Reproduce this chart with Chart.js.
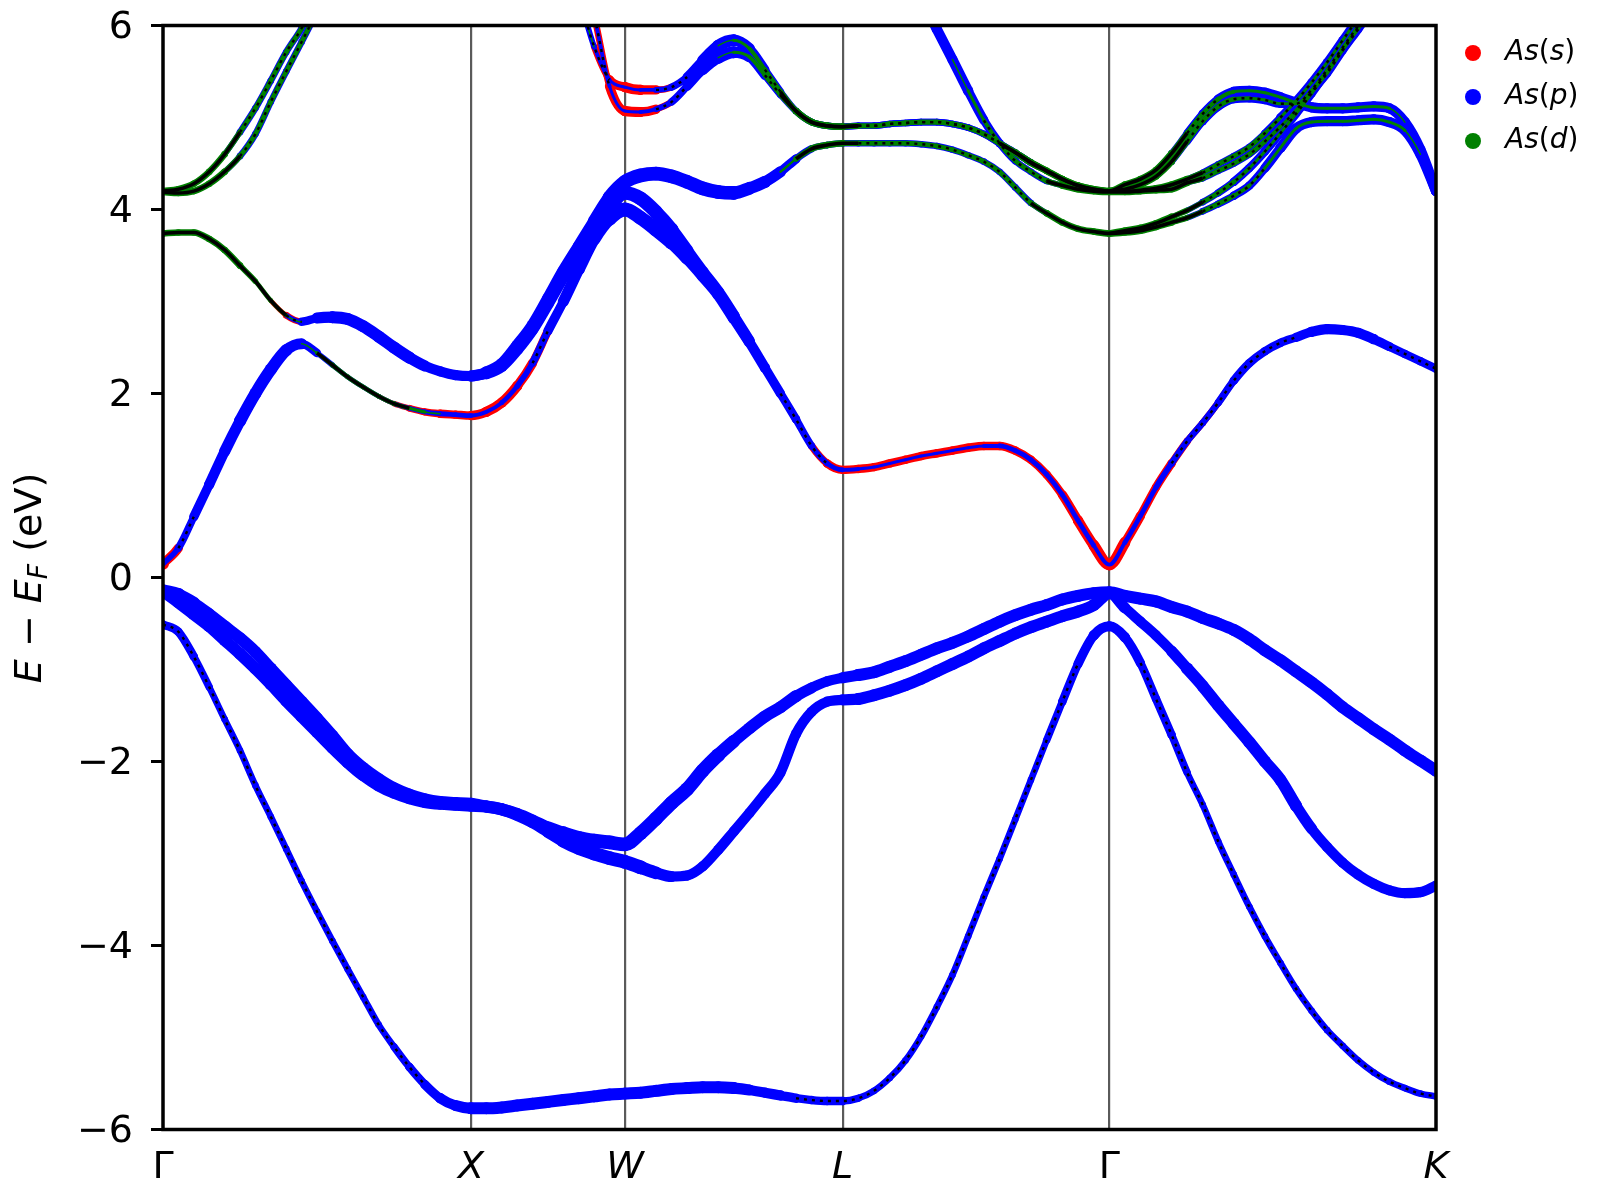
<!DOCTYPE html>
<html><head><meta charset="utf-8">
<script src="https://cdn.jsdelivr.net/npm/chart.js@4.4.1/dist/chart.umd.min.js"></script>
<style>html,body{margin:0;padding:0;background:#fff}#wrap{width:1600px;height:1200px}</style>
</head><body><div id="wrap"><canvas id="c" width="1600" height="1200"></canvas></div>
<script>
// ---------- k-path ----------
const kLabels = ['Γ','X','W','L','Γ','K'];
const kTicks = [0, 1.0, 1.5, 2.2071, 3.0731, 4.1338];
const kSegPoints = [20, 10, 14, 17, 21];
const yTicks = [-6,-4,-2,0,2,4,6];
const orbitalLabels = ['As(s)','As(p)','As(d)'];
const orbitalColors = ['#ff0000','#0000ff','#008000'];
const N = null;
function nulls(n){ return new Array(n).fill(null); }

// ---------- band energies (eV), segments Γ–X | X–W | W–L | L–Γ | Γ–K ----------
const V1 = [
 -0.51,-0.59,-0.86,-1.19,-1.54,-1.88,-2.26,-2.60,-2.95,-3.30,-3.63,-3.95,-4.26,-4.56,-4.86,-5.10,-5.32,-5.51,-5.66,-5.74,-5.77,
 -5.77,-5.76,-5.74,-5.72,-5.70,-5.68,-5.66,-5.64,-5.62,-5.61,
 -5.60,-5.58,-5.56,-5.55,-5.54,-5.54,-5.55,-5.57,-5.60,-5.63,-5.66,-5.68,-5.69,-5.69,
 -5.66,-5.58,-5.44,-5.25,-4.99,-4.67,-4.32,-3.90,-3.47,-3.06,-2.63,-2.20,-1.77,-1.35,-0.94,-0.63,-0.53,
 -0.65,-0.93,-1.32,-1.71,-2.12,-2.47,-2.87,-3.23,-3.58,-3.90,-4.19,-4.47,-4.71,-4.92,-5.09,-5.25,-5.38,-5.48,-5.55,-5.61,-5.64];
const V2 = [
 -0.15,-0.27,-0.40,-0.53,-0.68,-0.83,-0.99,-1.16,-1.34,-1.51,-1.68,-1.85,-2.01,-2.15,-2.26,-2.34,-2.40,-2.44,-2.46,-2.47,-2.48,
 -2.49,-2.52,-2.58,-2.66,-2.76,-2.86,-2.94,-3.00,-3.05,-3.09,
 -3.15,-3.21,-3.25,-3.24,-3.14,-2.96,-2.76,-2.56,-2.35,-2.12,-1.70,-1.46,-1.35,-1.33,
 -1.32,-1.28,-1.23,-1.17,-1.10,-1.02,-0.94,-0.86,-0.77,-0.69,-0.61,-0.54,-0.48,-0.42,-0.37,-0.30,-0.17,
 -0.33,-0.48,-0.63,-0.80,-0.99,-1.18,-1.39,-1.59,-1.79,-2.00,-2.20,-2.48,-2.73,-2.93,-3.10,-3.23,-3.33,-3.40,-3.43,-3.42,-3.35];
const V3 = [
 -0.15,-0.19,-0.28,-0.40,-0.53,-0.66,-0.81,-0.99,-1.17,-1.35,-1.53,-1.72,-1.92,-2.07,-2.19,-2.29,-2.36,-2.41,-2.44,-2.45,-2.46,
 -2.49,-2.52,-2.57,-2.64,-2.72,-2.78,-2.83,-2.86,-2.88,-2.90,
 -2.78,-2.62,-2.45,-2.30,-2.10,-1.93,-1.78,-1.64,-1.51,-1.41,-1.29,-1.20,-1.13,-1.09,
 -1.06,-1.03,-0.97,-0.91,-0.84,-0.77,-0.71,-0.64,-0.56,-0.48,-0.41,-0.35,-0.30,-0.24,-0.20,-0.17,-0.16,
 -0.20,-0.23,-0.26,-0.32,-0.37,-0.44,-0.50,-0.57,-0.67,-0.79,-0.90,-1.02,-1.14,-1.27,-1.41,-1.53,-1.65,-1.76,-1.88,-1.99,-2.10];
const C1 = [
 0.15,0.32,0.66,1.01,1.37,1.70,2.00,2.26,2.47,2.54,2.44,2.31,2.18,2.07,1.97,1.89,1.84,1.80,1.78,1.77,1.76,
 1.80,1.90,2.08,2.33,2.68,3.00,3.35,3.68,3.90,4.00,
 3.91,3.78,3.64,3.47,3.28,3.08,2.82,2.56,2.28,2.00,1.72,1.43,1.24,1.17,
 1.18,1.20,1.24,1.28,1.32,1.35,1.38,1.41,1.43,1.43,1.38,1.28,1.12,0.90,0.62,0.35,0.14,
 0.38,0.67,0.98,1.24,1.48,1.68,1.90,2.14,2.33,2.46,2.55,2.61,2.67,2.70,2.69,2.66,2.59,2.51,2.43,2.35,2.27];
const C2 = [
 3.74,3.75,3.75,3.68,3.56,3.39,3.22,3.01,2.85,2.78,2.82,2.83,2.81,2.73,2.62,2.50,2.39,2.30,2.24,2.20,2.19,
 2.23,2.32,2.52,2.74,3.03,3.33,3.60,3.87,4.13,4.30,
 4.37,4.39,4.36,4.30,4.23,4.19,4.18,4.23,4.30,4.41,4.55,4.66,4.70,4.72,
 4.72,4.72,4.72,4.72,4.71,4.69,4.65,4.59,4.52,4.41,4.24,4.07,3.96,3.86,3.79,3.76,3.74,
 3.75,3.77,3.81,3.86,3.91,3.98,4.06,4.15,4.26,4.45,4.67,4.88,4.95,4.96,4.96,4.97,4.98,4.95,4.86,4.60,4.20];
const C2w = [
 ...nulls(20),2.19,
 2.22,2.30,2.48,2.70,2.98,3.27,3.54,3.80,4.03,4.18,
 4.12,3.97,3.78,3.55,3.32,3.10,2.84,2.57,N,N,N,N,N,N,
 ...nulls(17), ...nulls(21)];
const C2b = [
 ...nulls(61),3.74,
 3.77,3.80,3.85,3.92,3.99,4.08,4.18,4.30,4.45,4.63,4.83,5.04,5.26,5.50,5.74,5.98,6.22,6.46,6.70,6.90,7.10];
const T1 = [
 4.20,4.22,4.28,4.41,4.60,4.84,5.10,5.40,5.71,5.97,6.30,6.60,6.90,7.10,7.30,7.40,7.50,7.50,7.50,7.50,7.50,
 7.40,7.30,7.20,7.00,6.80,6.60,6.30,5.77,5.41,5.33,
 5.30,5.30,5.33,5.44,5.62,5.78,5.84,5.75,5.52,5.28,5.07,4.95,4.91,4.90,
 4.91,4.91,4.93,4.94,4.95,4.95,4.93,4.89,4.82,4.72,4.62,4.51,4.42,4.33,4.26,4.22,4.20,
 4.27,4.33,4.43,4.61,4.83,5.04,5.20,5.28,5.29,5.27,5.22,5.16,5.11,5.10,5.10,5.11,5.12,5.10,4.95,4.65,4.20];
const T2 = [
 4.19,4.18,4.20,4.28,4.41,4.58,4.82,5.17,5.50,5.82,6.15,6.50,6.80,7.00,7.20,7.30,7.40,7.40,7.40,7.40,7.40,
 7.30,7.25,7.15,7.00,6.90,6.80,6.60,6.10,5.34,5.07,
 5.06,5.09,5.17,5.34,5.52,5.65,5.71,5.66,5.46,5.25,5.07,4.95,4.91,4.90,
 4.91,4.91,4.93,4.94,4.95,4.95,4.93,4.89,4.82,4.72,4.62,4.51,4.42,4.33,4.26,4.22,4.20,
 4.22,4.27,4.36,4.52,4.74,4.96,5.12,5.20,5.21,5.19,5.15,5.15,5.30,5.52,5.76,6.00,6.25,6.50,6.75,7.00,7.20];
const S1 = [
 ...nulls(44),7.90,
 7.60,7.30,6.95,6.62,6.30,5.96,5.63,5.29,4.97,4.72,4.53,4.41,4.31,4.26,4.22,4.20,4.19,
 4.19,4.20,4.21,4.22,4.29,4.34,4.42,4.50,4.60,4.74,4.90,5.08,5.28,5.48,5.73,5.96,6.20,6.45,6.70,6.95,7.20];
const B2 = [
 ...nulls(61),4.20,
 4.20,4.21,4.23,4.27,4.33,4.40,4.49,4.58,4.68,4.83,5.00,5.18,5.38,5.60,5.84,6.08,6.30,6.55,6.80,7.05,7.30];

// ---------- orbital weights per k-point (0-9), segments Γ–X | X–W | W–L | L–Γ | Γ–K ----------
const V1_p = '444333333333333344556|6666666666|66666665554444|33333333333334455|544433333333333333333';
const V2_p = '666666666666666666666|6666677777|76555555555555|66666666666666666|555566666666555555555';
const V3_p = '776666666666666666666|6666677777|77777766666555|66666666666666666|666666666666666666666';
const C1_s = '631000000000012233444|5554432100|00000000012344|44444444444444556|544433333221110000000';
const C1_p = '234556666532222222222|1223456677|77766665544322|11111111122222221|222333344444555554444';
const C1_d = '000000000012222211000|0000000000|00000000000000|00000000000000000|000000000000000000000';
const C2_s = '000000013300000000000|0000000000|00000000000000|00000000000000000|000000000000000000000';
const C2_p = '111111111356666665555|6666666677|77777776654333|33333333333322211|112223344455555555555';
const C2_d = '333333221000000000000|0000000000|00000000002333|22222222222233333|333322221111111111100';
const C2w_p = '000000000000000000005|6666666677|77766665000000|00000000000000000|000000000000000000000';
const C2b_p = '000000000000000000000|0000000000|00000000000000|00000000000000001|112223344444444444444';
const C2b_d = '000000000000000000000|0000000000|00000000000000|00000000000000003|333322221111111111111';
const T1_s = '000000000000000000000|0000000245|54210000000000|00000000000000000|000000000000000000000';
const T1_p = '111223333333333333333|3333333211|12345665433333|33333333333322222|122334455555555555555';
const T1_d = '333332222222222222222|1111111000|00000011223333|22222222223333333|333322211111111111000';
const T2_s = '000000000000000000000|0000000245|54210000000000|00000000000000000|000000000000000000000';
const T2_p = '111223333333333333333|3333333211|12345665433333|33333333333322222|122334444444444444444';
const T2_d = '333332222222222222222|1111111000|00000011223333|22222222223333333|333322221111111111111';
const S1_p = '000000000000000000000|0000000000|00000000000005|55555555443332222|112223333344444444444';
const S1_d = '000000000000000000000|0000000000|00000000000000|00000001122223333|333332222211111111111';
const B2_p = '000000000000000000000|0000000000|00000000000000|00000000000000001|112223333344444444444';
const B2_d = '000000000000000000000|0000000000|00000000000000|00000000000000003|333332222211111111111';

// ---------- build ----------
const segLens = [21,10,14,17,21];
const kGrid = [0];
for (let s=0;s<kSegPoints.length;s++){
  const a=kTicks[s], b=kTicks[s+1], n=kSegPoints[s];
  for (let j=1;j<=n;j++) kGrid.push(a + j*(b-a)/n);
}
function lv(str){
  const out=[];
  const segs=(str||'').split('|');
  segLens.forEach((L,i)=>{ const s=segs[i]||'0'; for(let j=0;j<L;j++){ out.push(+(s[j]!==undefined?s[j]:s[s.length-1])); } });
  return out;
}
const bands = [
  [V1,'',V1_p,''],[V2,'',V2_p,''],[V3,'',V3_p,''],
  [C1,C1_s,C1_p,C1_d],[C2,C2_s,C2_p,C2_d],[C2w,'',C2w_p,''],[C2b,'',C2b_p,C2b_d],
  [T1,T1_s,T1_p,T1_d],[T2,T2_s,T2_p,T2_d],[S1,'',S1_p,S1_d],[B2,'',B2_p,B2_d]
];
const radiusOf = l => (l>0 ? 0.6 + 0.9*l : 0);
const TRANSPARENT = 'rgba(0,0,0,0)';
const datasets = [];
bands.forEach(([E,s,p,d])=>{
  const data = kGrid.map((k,i)=>({x:k, y:E[i]}));
  const levs = [s,p,d].map(lv);
  const maxLev = kGrid.map((_,i)=>Math.max(levs[0][i],levs[1][i],levs[2][i]));
  const dDom = kGrid.map((_,i)=>levs[2][i]>0 && levs[2][i]>=levs[1][i] && levs[2][i]>=levs[0][i]);
  const sDom = kGrid.map((_,i)=>levs[0][i]>levs[1][i] && levs[0][i]>levs[2][i]);
  // black band line on top where the band is thin (beaded look), hidden where projections are fat
  datasets.push({data, borderColor:'#000', borderWidth:2.4, pointRadius:0, cubicInterpolationMode:'monotone',
    order:5, clip:0, spanGaps:false,
    segment:{
      borderColor: c => (Math.max(maxLev[c.p0DataIndex], maxLev[c.p1DataIndex]) >= 5 ||
                         (sDom[c.p0DataIndex] && sDom[c.p1DataIndex]) ? TRANSPARENT : '#000'),
      borderDash: c => (dDom[c.p0DataIndex] || dDom[c.p1DataIndex]) ? [] : [3,5],
      borderWidth: c => (dDom[c.p0DataIndex] || dDom[c.p1DataIndex]) ? 3.6 : 2.4
    }});
  datasets.push({data, borderColor:'#000', borderWidth:2.5, pointRadius:0, cubicInterpolationMode:'monotone',
    order:40, clip:0, spanGaps:false});
  levs.forEach((lev,oi)=>{
    if (lev.every(v=>v===0)) return;
    const rad = lev.map(radiusOf);
    const col = orbitalColors[oi];
    datasets.push({data, showLine:true, borderColor:col, borderWidth:1, cubicInterpolationMode:'monotone',
      pointRadius:rad, pointHoverRadius:rad, pointBackgroundColor:col, pointBorderWidth:0,
      borderCapStyle:'round', borderJoinStyle:'round', order:30-oi*10, clip:0, spanGaps:false,
      segment:{
        borderWidth: c => Math.max(0.5, rad[c.p0DataIndex] + rad[c.p1DataIndex]),
        borderColor: c => ((lev[c.p0DataIndex] + lev[c.p1DataIndex]) > 0 ? col : TRANSPARENT)
      }});
  });
});

const FONT = 'DejaVu Sans';
function drawPieces(ctx, pieces, x, y, size, align){
  let total=0;
  pieces.forEach(pc=>{ ctx.font=`${pc[1]} ${pc[2]?size*pc[2]:size}px "${FONT}"`; total+=ctx.measureText(pc[0]).width; });
  let cx = align==='center' ? x-total/2 : x;
  pieces.forEach(pc=>{
    ctx.font=`${pc[1]} ${pc[2]?size*pc[2]:size}px "${FONT}"`;
    ctx.fillText(pc[0], cx, y + (pc[3]||0));
    cx += ctx.measureText(pc[0]).width;
  });
}
const deco = {
  id:'deco',
  afterDatasetsDraw(chart){
    const {ctx, chartArea:a} = chart;
    ctx.save(); ctx.strokeStyle='#000'; ctx.lineWidth=3.5;
    ctx.strokeRect(a.left, a.top, a.right-a.left, a.bottom-a.top); ctx.restore();
  },
  afterDraw(chart){
    const ctx = chart.ctx;
    ctx.save();
    ctx.fillStyle='#000'; ctx.textBaseline='middle';
    orbitalLabels.forEach((lab,i)=>{
      const y = 53 + i*44;
      ctx.beginPath(); ctx.fillStyle=orbitalColors[i]; ctx.arc(1473, y, 8, 0, Math.PI*2); ctx.fill();
      ctx.fillStyle='#000';
      const m = lab.match(/^(\w+)\((\w)\)$/);
      drawPieces(ctx, [[m[1],'italic'],['(','normal'],[m[2],'italic'],[')','normal']], 1505, y, 28, 'left');
    });
    ctx.translate(31, 578); ctx.rotate(-Math.PI/2);
    drawPieces(ctx, [['E','italic'],[' \u2212 ','normal'],['E','italic'],['F','italic',0.7,9],[' (eV)','normal']], 0, 0, 38, 'center');
    ctx.restore();
  }
};

Chart.defaults.font.family = FONT;
Chart.defaults.color = '#000';
new Chart(document.getElementById('c'), {
  type:'line',
  data:{datasets},
  plugins:[deco],
  options:{
    responsive:false, animation:false, events:[],
    layout:{padding:{left:0,right:164,top:25.5,bottom:0}},
    plugins:{legend:{display:false}, tooltip:{enabled:false}},
    scales:{
      x:{type:'linear', min:kTicks[0], max:kTicks[kTicks.length-1],
        afterBuildTicks: s => { s.ticks = kTicks.map(v=>({value:v})); },
        afterFit: s => { s.height = 70.5; s.paddingLeft = 0; s.paddingRight = 0; },
        border:{display:false},
        grid:{drawTicks:false, lineWidth:2.2, color: c => (c.index===0 || c.index===kTicks.length-1) ? TRANSPARENT : '#5a5a5a'},
        ticks:{padding:16, autoSkip:false, maxRotation:0, callback:(v,i)=>kLabels[i],
          font: c => ({family:FONT, size:38, style:(kLabels[c.index]==='Γ')?'normal':'italic'})}
      },
      y:{type:'linear', min:-6, max:6,
        afterBuildTicks: s => { s.ticks = yTicks.map(v=>({value:v})); },
        afterFit: s => { s.width = 163; s.paddingTop = 0; s.paddingBottom = 0; },
        border:{display:false},
        grid:{drawOnChartArea:false, drawTicks:true, tickLength:12, tickWidth:3, tickColor:'#000'},
        ticks:{padding:18, labelOffset:3, font:{family:FONT, size:38}, callback: v => (v<0 ? '\u2212'+Math.abs(v) : String(v))}
      }
    }
  }
});
</script>
</body></html>
